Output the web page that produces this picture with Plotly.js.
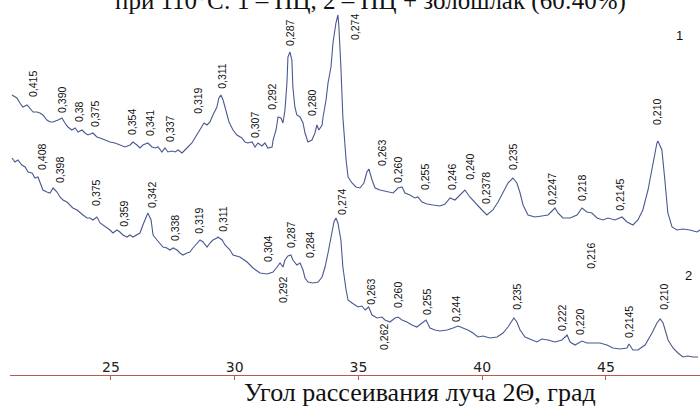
<!DOCTYPE html>
<html>
<head>
<meta charset="utf-8">
<script src="https://cdn.plot.ly/plotly-3.0.1.min.js"></script>
<style>html,body{margin:0;padding:0;background:#fff;}#chart{width:700px;height:408px;}</style>
</head>
<body>
<div id="chart"></div>
<script>
// 2θ (deg) and intensity (arb. units) for sample 1 (ПЦ)
const theta1 = [21.00,21.20,21.32,21.44,21.61,21.73,21.85,22.01,22.13,22.25,22.41,22.54,22.66,22.86,23.02,23.14,23.26,23.42,23.55,23.67,23.83,23.95,24.07,24.27,24.43,24.56,24.76,24.96,25.16,25.36,25.57,25.77,25.89,26.05,26.17,26.29,26.49,26.66,26.78,26.90,27.06,27.18,27.30,27.46,27.59,27.71,27.87,27.99,28.11,28.27,28.39,28.52,28.68,28.76,28.88,29.00,29.12,29.28,29.36,29.44,29.53,29.65,29.77,29.93,30.09,30.29,30.41,30.53,30.70,30.82,30.94,31.10,31.22,31.34,31.51,31.55,31.67,31.75,31.87,31.95,32.03,32.11,32.15,32.23,32.31,32.35,32.43,32.51,32.64,32.76,32.84,32.96,33.12,33.24,33.32,33.40,33.53,33.57,33.69,33.77,33.89,33.97,34.09,34.17,34.21,34.29,34.37,34.50,34.58,34.74,34.90,35.06,35.22,35.34,35.42,35.55,35.67,35.87,36.16,36.40,36.60,36.76,36.88,37.08,37.28,37.40,37.57,37.77,38.01,38.29,38.50,38.70,38.90,39.10,39.30,39.50,39.71,39.99,40.19,40.31,40.43,40.64,40.84,41.04,41.24,41.40,41.53,41.65,41.85,42.13,42.41,42.66,42.86,42.94,43.06,43.26,43.55,43.83,44.03,44.23,44.43,44.64,44.88,45.08,45.36,45.65,45.85,46.09,46.29,46.49,46.70,46.90,47.06,47.10,47.26,47.38,47.50,47.67,47.87,48.11,48.39,48.68,48.80];
const inten1 = [280,277,272,268,270,267,263,263,262,260,255,253,253,255,257,252,248,245,247,243,245,242,240,242,238,237,235,233,232,230,228,230,233,230,227,230,232,228,227,228,223,227,223,224,223,225,222,225,228,232,237,242,248,252,250,253,260,268,277,280,275,265,253,245,240,237,233,232,233,228,232,229,232,227,228,235,245,258,257,252,265,292,318,323,315,288,268,260,258,252,242,233,235,242,250,245,250,258,275,292,308,332,352,360,348,308,258,215,198,192,188,187,192,203,206,195,187,185,183,182,187,188,182,180,177,178,173,171,170,169,171,177,175,180,185,178,172,165,160,163,165,173,183,192,197,192,182,170,160,158,159,160,165,167,162,157,157,160,167,163,162,157,155,157,155,158,153,150,155,165,185,212,232,234,225,195,162,148,145,146,145,143,145];

// 2θ (deg) and intensity (arb. units) for sample 2 (ПЦ + золошлак)
const theta2 = [21.00,21.12,21.24,21.40,21.53,21.65,21.81,21.93,22.05,22.13,22.25,22.41,22.54,22.66,22.82,22.94,23.06,23.22,23.34,23.46,23.63,23.75,23.87,24.03,24.15,24.27,24.43,24.56,24.68,24.84,24.96,25.08,25.24,25.36,25.48,25.65,25.77,25.89,26.05,26.17,26.29,26.45,26.49,26.62,26.70,26.86,26.98,27.10,27.26,27.38,27.51,27.67,27.79,27.91,28.07,28.19,28.31,28.48,28.60,28.72,28.88,29.00,29.12,29.28,29.32,29.49,29.61,29.81,29.93,30.21,30.50,30.74,31.02,31.31,31.55,31.71,31.83,31.95,32.03,32.15,32.27,32.35,32.51,32.64,32.76,32.84,32.96,33.16,33.37,33.53,33.65,33.77,33.93,34.01,34.09,34.17,34.29,34.37,34.50,34.58,34.74,34.86,34.98,35.14,35.27,35.41,35.55,35.75,35.95,36.07,36.27,36.48,36.60,36.76,36.96,37.16,37.36,37.57,37.73,37.89,38.09,38.29,38.58,38.82,39.02,39.22,39.42,39.63,39.83,40.03,40.31,40.60,40.84,41.04,41.20,41.28,41.40,41.53,41.73,42.01,42.21,42.41,42.66,42.94,43.22,43.43,43.55,43.75,44.03,44.23,44.47,44.76,45.04,45.28,45.57,45.85,45.93,46.09,46.29,46.58,46.86,47.06,47.19,47.31,47.51,47.71,47.91,48.11,48.31,48.52,48.72];
const inten2 = [217,213,215,210,208,203,202,197,198,192,185,183,182,187,183,178,175,173,170,167,165,162,160,157,157,155,158,152,150,147,145,142,145,143,140,138,140,138,140,142,150,160,162,155,140,135,132,128,127,125,127,125,122,120,122,123,127,132,135,133,128,132,135,137,138,135,130,125,120,118,113,107,102,101,103,108,112,108,115,119,120,115,110,112,105,97,93,92,93,98,108,122,142,153,157,152,135,108,85,75,72,70,68,69,65,68,60,57,58,55,53,57,58,55,53,50,48,52,55,47,45,44,45,47,49,47,45,42,38,39,37,38,42,48,55,57,53,45,38,35,33,36,35,33,35,40,33,30,34,32,32,32,30,27,26,27,31,25,25,30,42,52,56,52,35,27,22,18,19,18,18];

// interplanar spacing labels (nm)
const dLabels1 = ["0,415","0,390","0,38","0,375","0,354","0,341","0,337","0,319","0,311","0,307","0,292","0,287","0,280","0,274","0,263","0,260","0,255","0,246","0,240","0,2378","0,235","0,2247","0,218","0,216","0,2145","0,210"];
const dLabels2 = ["0,408","0,398","0,375","0,359","0,342","0,338","0,319","0,311","0,304","0,292","0,287","0,284","0,274","0,263","0,262","0,260","0,255","0,244","0,235","0,222","0,220","0,2145","0,210"];
const tickVals = [25,30,35,40,45];
const tickText = ["25","30","35","40","45"];

// label placement (2θ, intensity units)
const pos1x = [21.85,23.02,23.71,24.35,25.85,26.58,27.38,28.51,29.48,30.82,31.50,32.23,33.12,34.86,35.95,36.60,37.69,38.78,39.50,40.15,41.24,42.82,44.03,44.39,45.56,47.06];
const pos1y = [291,275,263,261,253,252,246,274,299,250,278,342,272,348,222,205,198,198,208,187,218,186,187,119,180,263];
const pos2x = [22.21,22.94,24.39,25.52,26.66,27.59,28.55,29.52,31.34,31.95,32.27,33.04,34.33,35.50,36.03,36.60,37.77,38.94,41.40,43.22,43.95,45.93,47.34];
const pos2y = [218,205,182,161,180,147,154,156,126,85,140,130,173,83,38,80,73,66,78,57,53,53,78];

const lineColor = "#4a5890";
const labFont = {family: "Liberation Sans, Arial, sans-serif", size: 10.5, color: "#111"};

const annotations = [];
function addLabels(texts, xs, ys) {
  texts.forEach((t, i) => annotations.push({
    x: xs[i], y: ys[i], xref: "x", yref: "y", text: t, textangle: -90,
    showarrow: false, font: labFont, xanchor: "center", yanchor: "middle"
  }));
}
addLabels(dLabels1, pos1x, pos1y);
addLabels(dLabels2, pos2x, pos2y);
annotations.push({x: 47.99, y: 340, xref: "x", yref: "y", text: "1", showarrow: false,
  font: {family: "Liberation Sans, Arial, sans-serif", size: 13, color: "#111"}});
annotations.push({x: 48.35, y: 100, xref: "x", yref: "y", text: "2", showarrow: false,
  font: {family: "Liberation Sans, Arial, sans-serif", size: 13, color: "#111"}});
annotations.push({x: 0.522, y: 0.998, xref: "paper", yref: "paper", yanchor: "middle",
  text: "при 110°С: 1 – ПЦ, 2 – ПЦ + золошлак (60:40%)", showarrow: false,
  font: {family: "Liberation Serif, Times New Roman, serif", size: 25, color: "#111"}});
annotations.push({x: 0.594, y: -0.047, xref: "paper", yref: "paper", yanchor: "middle",
  text: "Угол рассеивания луча 2Θ, град", showarrow: false,
  font: {family: "Liberation Serif, Times New Roman, serif", size: 26, color: "#111"}});

const traces = [
  {x: theta1, y: inten1, type: "scatter", mode: "lines", line: {color: lineColor, width: 1.1}, hoverinfo: "skip"},
  {x: theta2, y: inten2, type: "scatter", mode: "lines", line: {color: lineColor, width: 1.1}, hoverinfo: "skip"}
];

const layout = {
  width: 700, height: 408,
  margin: {l: 10, r: 0, t: 0, b: 33},
  paper_bgcolor: "#fff", plot_bgcolor: "#fff",
  showlegend: false,
  xaxis: {
    range: [20.92, 48.80], showgrid: false, zeroline: false,
    showline: true, linecolor: "#b85c4a", linewidth: 1,
    ticks: "outside", ticklen: 4, tickcolor: "#b85c4a",
    tickvals: tickVals, ticktext: tickText,
    ticklabelposition: "inside",
    tickfont: {family: "DejaVu Sans, Arial, sans-serif", size: 14, color: "#222"}
  },
  yaxis: {range: [0, 375], visible: false, fixedrange: true},
  annotations: annotations
};

Plotly.newPlot("chart", traces, layout, {staticPlot: true, displayModeBar: false});
</script>
</body>
</html>
